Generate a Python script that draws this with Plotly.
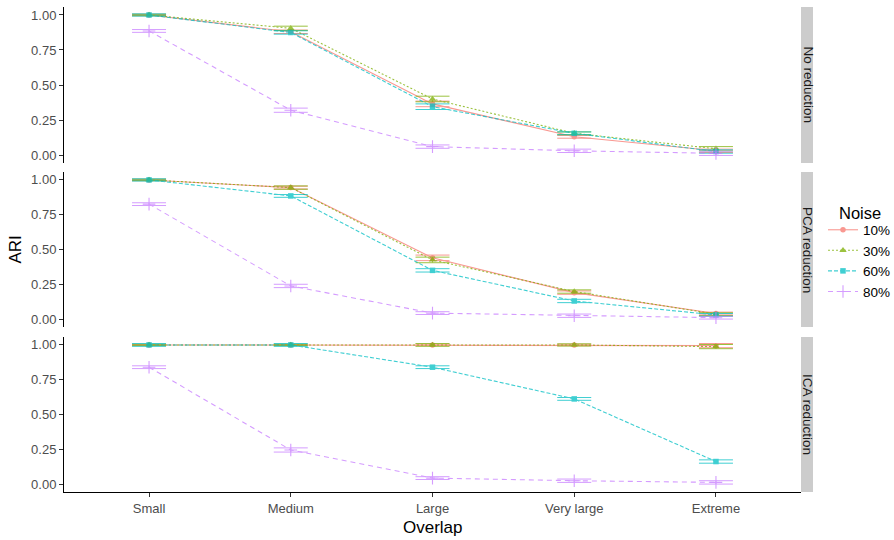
import plotly.graph_objects as go

# ---------------- data ----------------
overlap = ["Small", "Medium", "Large", "Very large", "Extreme"]
noise_levels = ["10%", "30%", "60%", "80%"]
panel_names = ["No reduction", "PCA reduction", "ICA reduction"]

# No reduction
none_10 = [1.00, 0.880, 0.365, 0.130, 0.030]
none_30 = [1.00, 0.905, 0.400, 0.155, 0.045]
none_60 = [1.00, 0.875, 0.345, 0.155, 0.025]
none_80 = [0.886, 0.320, 0.060, 0.030, 0.012]
none_10_err = [0.005, 0.012, 0.020, 0.010, 0.012]
none_30_err = [0.005, 0.015, 0.020, 0.010, 0.015]
none_60_err = [0.008, 0.012, 0.020, 0.010, 0.012]
none_80_err = [0.010, 0.015, 0.012, 0.012, 0.015]

# PCA reduction
pca_10 = [1.00, 0.945, 0.440, 0.190, 0.040]
pca_30 = [1.00, 0.945, 0.425, 0.198, 0.035]
pca_60 = [1.00, 0.885, 0.350, 0.130, 0.030]
pca_80 = [0.826, 0.238, 0.043, 0.024, 0.010]
pca_10_err = [0.005, 0.010, 0.020, 0.012, 0.010]
pca_30_err = [0.005, 0.012, 0.020, 0.012, 0.010]
pca_60_err = [0.008, 0.010, 0.012, 0.012, 0.010]
pca_80_err = [0.010, 0.012, 0.010, 0.012, 0.010]

# ICA reduction
ica_10 = [1.00, 1.00, 1.00, 1.00, 0.995]
ica_30 = [1.00, 1.00, 1.00, 1.00, 0.988]
ica_60 = [1.00, 1.00, 0.840, 0.612, 0.162]
ica_80 = [0.840, 0.245, 0.043, 0.024, 0.012]
ica_10_err = [0.003, 0.003, 0.005, 0.005, 0.015]
ica_30_err = [0.005, 0.005, 0.010, 0.008, 0.015]
ica_60_err = [0.010, 0.010, 0.010, 0.010, 0.012]
ica_80_err = [0.010, 0.015, 0.010, 0.012, 0.012]

panel_values = [
    [none_10, none_30, none_60, none_80],
    [pca_10, pca_30, pca_60, pca_80],
    [ica_10, ica_30, ica_60, ica_80],
]
panel_errors = [
    [none_10_err, none_30_err, none_60_err, none_80_err],
    [pca_10_err, pca_30_err, pca_60_err, pca_80_err],
    [ica_10_err, ica_30_err, ica_60_err, ica_80_err],
]

# ---------------- style ----------------
colors = ["#F8766D", "#7CAE00", "#00BFC4", "#C77CFF"]
dashes = ["solid", "2px,2px", "4px,2px", "5px,4px"]
symbols = ["circle", "triangle-up", "square", "cross-thin"]
msizes = [5.5, 6.5, 5.5, 9]
FONT = "Liberation Sans, Arial, Helvetica, sans-serif"

W, H = 894, 540
L, R, T, B = 64, 801, 7, 492
plot_h = B - T
plot_w = R - L
panel_px = [(7, 163), (172, 327), (337, 492)]


def pdom(top, bot):
    return [1 - (bot - T) / plot_h, 1 - (top - T) / plot_h]


def px_x(px):
    return (px - L) / plot_w


def px_y(py):
    return 1 - (py - T) / plot_h


fig = go.Figure()

for p in range(3):
    xa = "x" if p == 0 else f"x{p+1}"
    ya = "y" if p == 0 else f"y{p+1}"
    for i, lvl in enumerate(noise_levels):
        marker = dict(symbol=symbols[i], size=msizes[i], color=colors[i])
        if symbols[i] == "cross-thin":
            marker["line"] = dict(color=colors[i], width=1.1)
        fig.add_trace(go.Scatter(
            x=overlap, y=panel_values[p][i],
            mode="lines+markers",
            name=lvl, legendgroup=lvl, showlegend=(p == 0),
            line=dict(color=colors[i], width=1.1, dash=dashes[i]),
            marker=marker,
            opacity=0.75,
            error_y=dict(type="data", array=panel_errors[p][i], visible=True,
                         color=colors[i], thickness=1, width=17),
            xaxis=xa, yaxis=ya,
        ))

layout = dict(
    width=W, height=H,
    margin=dict(l=L, r=W - R, t=T, b=H - B, autoexpand=False),
    paper_bgcolor="white", plot_bgcolor="white",
    font=dict(family=FONT, size=13, color="#4D4D4D"),
    legend=dict(
        font=dict(size=13.5, color="black"),
        x=px_x(823), xanchor="left", y=px_y(261), yanchor="middle",
        bgcolor="rgba(0,0,0,0)", itemwidth=30, tracegroupgap=0,
    ),
    showlegend=True,
)

for p in range(3):
    sx = "" if p == 0 else str(p + 1)
    top, bot = panel_px[p]
    layout[f"xaxis{sx}"] = dict(
        domain=[0, 1], anchor=f"y{sx}", range=[-0.6, 4.6],
        type="category", categoryorder="array", categoryarray=overlap,
        showgrid=False, zeroline=False,
        showline=(p == 2), linecolor="black", linewidth=1,
        ticks="outside" if p == 2 else "", ticklen=4, tickcolor="#333333",
        showticklabels=(p == 2),
        tickfont=dict(size=13, color="#4D4D4D"),
        matches=None if p == 0 else "x",
    )
    layout[f"yaxis{sx}"] = dict(
        domain=pdom(top, bot), anchor=f"x{sx}",
        range=[-0.057, 1.057],
        tickvals=[0, 0.25, 0.5, 0.75, 1.0],
        tickformat=".2f",
        showgrid=False, zeroline=False,
        showline=True, linecolor="black", linewidth=1,
        ticks="outside", ticklen=4, tickcolor="#333333",
        tickfont=dict(size=13, color="#4D4D4D"),
    )

fig.update_layout(**layout)

# strips
shapes = []
annotations = []
for p in range(3):
    top, bot = panel_px[p]
    d = pdom(top, bot)
    shapes.append(dict(type="rect", xref="paper", yref="paper",
                       x0=px_x(801), x1=px_x(813),
                       y0=d[0], y1=d[1], fillcolor="#CCCCCC",
                       line=dict(width=0), layer="below"))
    annotations.append(dict(text=panel_names[p], xref="paper", yref="paper",
                            x=px_x(807.5), y=(d[0] + d[1]) / 2,
                            showarrow=False, textangle=90,
                            font=dict(size=13.5, color="#1A1A1A"),
                            xanchor="center", yanchor="middle"))

annotations.append(dict(text="Overlap", xref="paper", yref="paper",
                        x=0.5, y=px_y(527), showarrow=False,
                        font=dict(size=17, color="black"),
                        xanchor="center", yanchor="middle"))
annotations.append(dict(text="ARI", xref="paper", yref="paper",
                        x=px_x(15), y=0.5, showarrow=False,
                        textangle=-90,
                        font=dict(size=17, color="black"),
                        xanchor="center", yanchor="middle"))
annotations.append(dict(text="Noise", xref="paper", yref="paper",
                        x=px_x(837), y=px_y(213), showarrow=False,
                        font=dict(size=16.5, color="black"),
                        xanchor="left", yanchor="middle"))

fig.update_layout(shapes=shapes, annotations=annotations)

fig.write_html("out.html")
